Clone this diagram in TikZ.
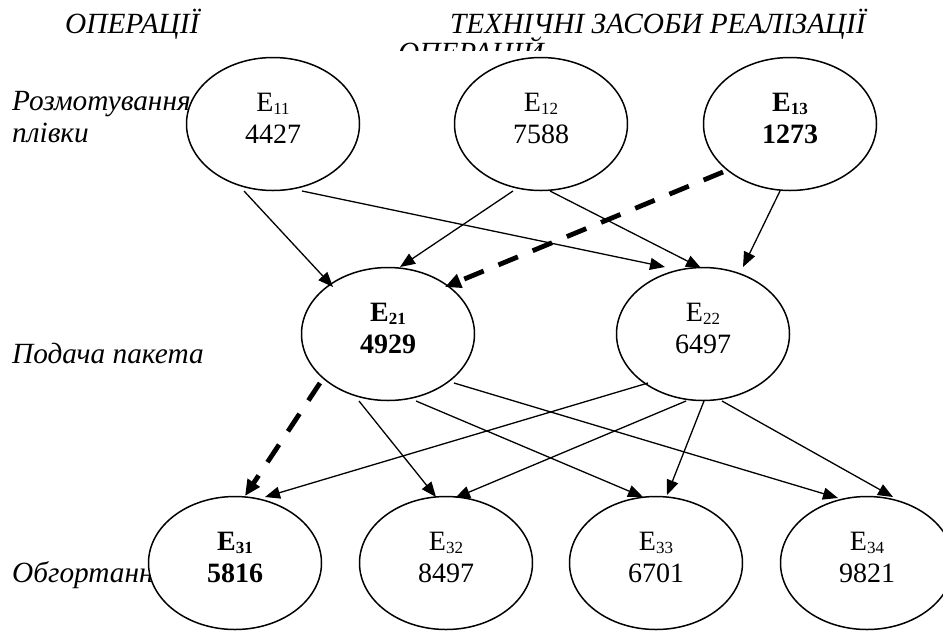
\documentclass[tikz,border=0pt]{standalone}
\usepackage{fontspec}
\setmainfont{Liberation Serif}
\usetikzlibrary{arrows.meta,shapes.geometric}
\newcommand{\sbs}[1]{\raisebox{-3pt}{\fontsize{17}{17}\selectfont #1}}
\newcommand{\dpt}{\rule[-11pt]{0pt}{0pt}}
\begin{document}
\begin{tikzpicture}[x=1pt,y=-1pt,
  oval/.style={ellipse, draw, line width=1.5pt, fill=white, minimum width=173pt,
    minimum height=133pt, inner sep=0pt, align=center, font=\fontsize{28}{32}\selectfont},
  boval/.style={oval, font=\fontsize{28}{32}\selectfont\bfseries},
  lbl/.style={anchor=base west, inner sep=0pt, font=\fontsize{29.3}{32}\selectfont\itshape},
  arr/.style={line width=1.3pt, -{Triangle[length=15pt,width=12pt]}},
  darr/.style={line width=4.8pt, dash pattern=on 21pt off 16pt, -{Triangle[length=16pt,width=14pt]}}]
\clip (0,0) rectangle (943,630);
\fill[white] (0,0) rectangle (943,630);
% headers and row labels
\node[lbl] (h1) at (65,33) {ОПЕРАЦІЇ};
\node[lbl] (h2) at (450,33) {ТЕХНІЧНІ ЗАСОБИ РЕАЛІЗАЦІЇ};
\begin{scope}
  \clip (380,0) rectangle (570,50);
  \node[lbl] (h3) at (398,62) {ОПЕРАЦІЙ};
\end{scope}
\node[lbl] (l1) at (12,110) {Розмотування};
\node[lbl] (l2) at (12,142) {плівки};
\node[lbl] (l3) at (12,363) {Подача пакета};
\node[lbl] (l4) at (12,582) {Обгортання};
% ellipses
\node[oval]  (e11) at (273,124) {E\sbs{11}\\4427\dpt};
\node[oval]  (e12) at (541,124) {E\sbs{12}\\7588\dpt};
\node[boval] (e13) at (790,124) {E\sbs{13}\\1273\dpt};
\node[boval] (e21) at (388,334) {E\sbs{21}\\4929\dpt};
\node[oval]  (e22) at (703,334) {E\sbs{22}\\6497\dpt};
\node[boval] (e31) at (235,563) {E\sbs{31}\\5816\dpt};
\node[oval]  (e32) at (446,563) {E\sbs{32}\\8497\dpt};
\node[oval]  (e33) at (656,563) {E\sbs{33}\\6701\dpt};
\node[oval]  (e34) at (867,563) {E\sbs{34}\\9821\dpt};
% connectors, level 1 -> 2
\draw[arr] ([shift={(-29,67)}]e11.center) -- ([shift={(-55,-47)}]e21.center);
\draw[arr] ([shift={(29,67)}]e11.center) -- ([shift={(-38,-67)}]e22.center);
\draw[arr] ([shift={(-28,67)}]e12.center) -- ([shift={(12,-67)}]e21.center);
\draw[arr] ([shift={(9,67)}]e12.center) -- ([shift={(-2,-66)}]e22.center);
\draw[arr] ([shift={(-10,67)}]e13.center) -- ([shift={(40,-67)}]e22.center);
\draw[darr] ([shift={(-67,48)}]e13.center) -- ([shift={(57,-47)}]e21.center);
% connectors, level 2 -> 3
\draw[darr] ([shift={(-68,49)}]e21.center) -- ([shift={(10,-67)}]e31.center);
\draw[arr] ([shift={(-55,49)}]e22.center) -- ([shift={(30,-66)}]e31.center);
\draw[arr] ([shift={(-29,67)}]e21.center) -- ([shift={(-10,-66)}]e32.center);
\draw[arr] ([shift={(28,67)}]e21.center) -- ([shift={(-13,-66)}]e33.center);
\draw[arr] ([shift={(66,49)}]e21.center) -- ([shift={(-29,-65)}]e34.center);
\draw[arr] ([shift={(-17,67)}]e22.center) -- ([shift={(9,-65)}]e32.center);
\draw[arr] ([shift={(1,67)}]e22.center) -- ([shift={(11,-68)}]e33.center);
\draw[arr] ([shift={(19,67)}]e22.center) -- ([shift={(26,-66)}]e34.center);
\end{tikzpicture}
\end{document}
